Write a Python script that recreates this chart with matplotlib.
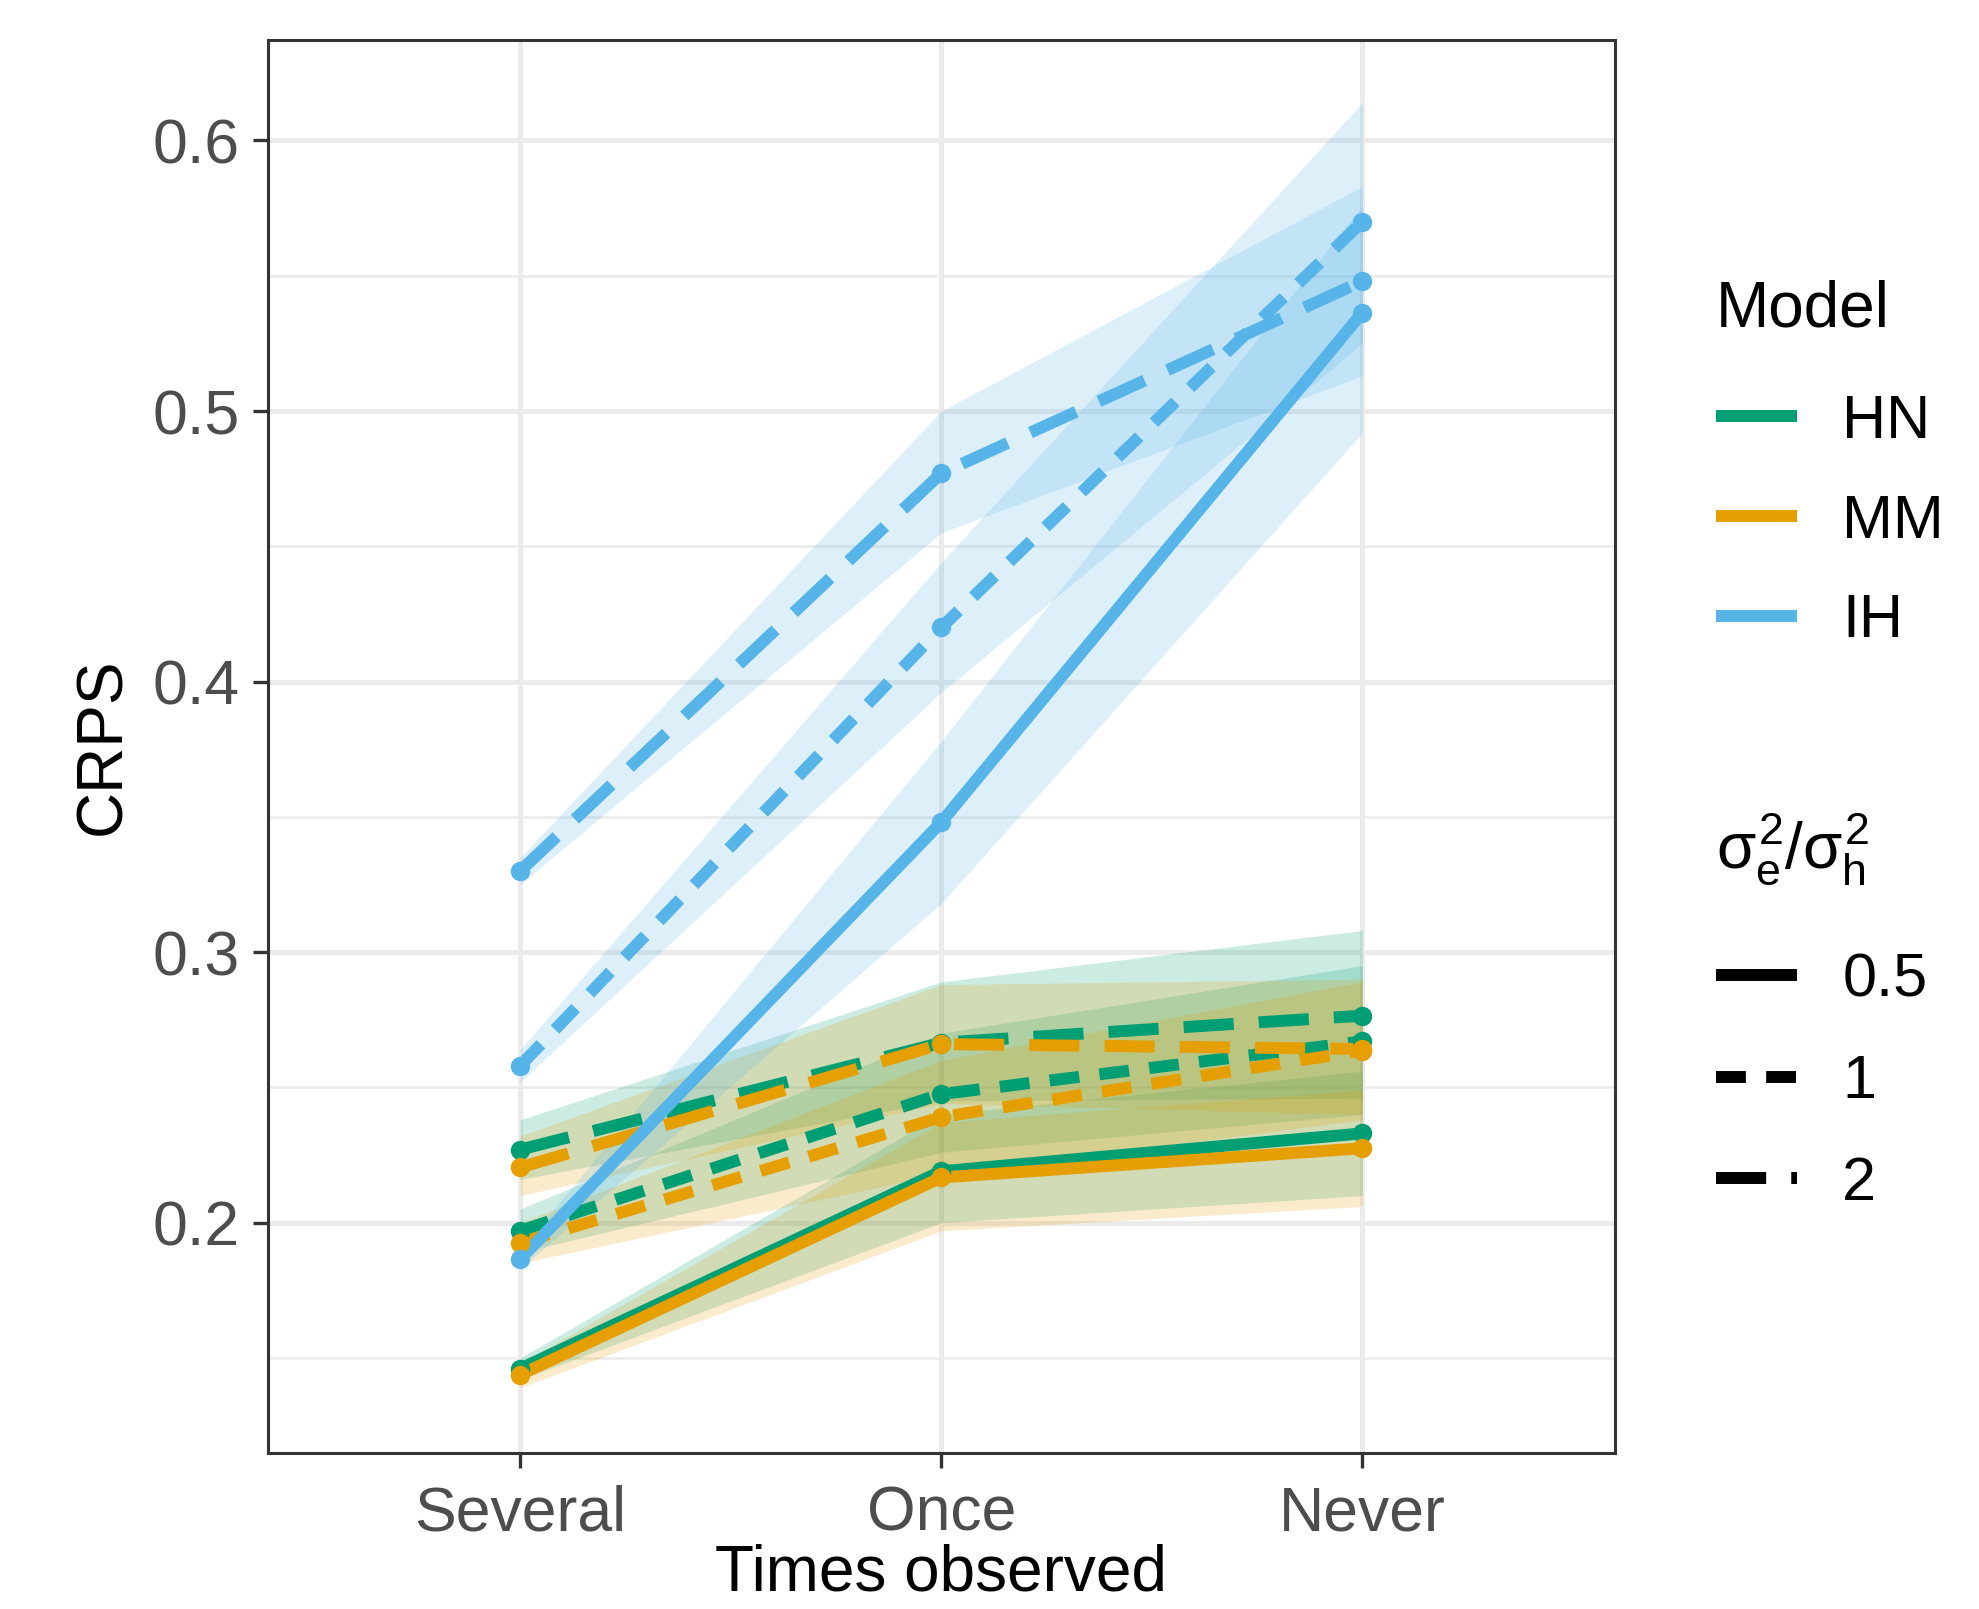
import matplotlib
matplotlib.use("Agg")
import matplotlib.pyplot as plt
from matplotlib.lines import Line2D
from matplotlib.font_manager import FontProperties
from matplotlib.ticker import MultipleLocator, FormatStrFormatter

plt.rcParams['font.family'] = ['Liberation Sans', 'DejaVu Sans']
plt.rcParams['mathtext.fontset'] = 'custom'
plt.rcParams['mathtext.rm'] = 'Liberation Sans'
plt.rcParams['mathtext.it'] = 'Liberation Sans'
plt.rcParams['mathtext.bf'] = 'Liberation Sans:bold'

times = ['Several', 'Once', 'Never']
models = ['HN', 'MM', 'IH']
ratios = ['0.5', '1', '2']

# mean CRPS, one list per model / ratio
hn_05 = [0.146, 0.219, 0.233]
hn_1 = [0.197, 0.2475, 0.267]
hn_2 = [0.227, 0.2665, 0.2765]
mm_05 = [0.1438, 0.2167, 0.2275]
mm_1 = [0.1926, 0.239, 0.2636]
mm_2 = [0.2204, 0.266, 0.2642]
ih_05 = [0.1865, 0.348, 0.5364]
ih_1 = [0.258, 0.420, 0.570]
ih_2 = [0.330, 0.477, 0.548]

# ribbon bounds
hn_05_lo = [0.142, 0.200, 0.210]
hn_05_hi = [0.150, 0.240, 0.256]
hn_1_lo = [0.189, 0.226, 0.240]
hn_1_hi = [0.205, 0.270, 0.295]
hn_2_lo = [0.216, 0.245, 0.246]
hn_2_hi = [0.238, 0.289, 0.308]
mm_05_lo = [0.139, 0.197, 0.206]
mm_05_hi = [0.148, 0.237, 0.249]
mm_1_lo = [0.185, 0.218, 0.238]
mm_1_hi = [0.200, 0.260, 0.289]
mm_2_lo = [0.210, 0.244, 0.240]
mm_2_hi = [0.232, 0.288, 0.290]
ih_05_lo = [0.183, 0.318, 0.492]
ih_05_hi = [0.190, 0.378, 0.576]
ih_1_lo = [0.252, 0.396, 0.525]
ih_1_hi = [0.264, 0.444, 0.614]
ih_2_lo = [0.325, 0.455, 0.513]
ih_2_hi = [0.335, 0.500, 0.583]

colors = {'HN': '#009E73', 'MM': '#E69F00', 'IH': '#56B4E9'}
dashes = {'0.5': None, '1': (2.5, 1.7), '2': (4.2, 2.1)}

series = {
    ('HN', '0.5'): (hn_05, hn_05_lo, hn_05_hi),
    ('HN', '1'): (hn_1, hn_1_lo, hn_1_hi),
    ('HN', '2'): (hn_2, hn_2_lo, hn_2_hi),
    ('MM', '0.5'): (mm_05, mm_05_lo, mm_05_hi),
    ('MM', '1'): (mm_1, mm_1_lo, mm_1_hi),
    ('MM', '2'): (mm_2, mm_2_lo, mm_2_hi),
    ('IH', '0.5'): (ih_05, ih_05_lo, ih_05_hi),
    ('IH', '1'): (ih_1, ih_1_lo, ih_1_hi),
    ('IH', '2'): (ih_2, ih_2_lo, ih_2_hi),
}

fig = plt.figure(figsize=(19.79, 16.09), dpi=100)
ax = fig.add_axes([0.1352, 0.0972, 0.8161 - 0.1352, 0.9749 - 0.0972])

x = list(range(len(times)))
lw = 8.6

# ribbons first, then lines, then points (ggplot layer order)
for m in models:
    for r in ratios:
        y, lo, hi = series[(m, r)]
        ax.fill_between(x, lo, hi, color=colors[m], alpha=0.2, lw=0, zorder=2)
for m in models:
    for r in ratios:
        y, lo, hi = series[(m, r)]
        line, = ax.plot(x, y, color=colors[m], lw=lw, zorder=3,
                        solid_capstyle='butt', dash_capstyle='butt')
        if dashes[r] is not None:
            line.set_dashes(dashes[r])
for m in models:
    for r in ratios:
        y, lo, hi = series[(m, r)]
        ax.plot(x, y, 'o', color=colors[m], ms=14, zorder=4, mec='none')

ax.set_xlim(-0.6, 2.6)
ax.set_ylim(0.115, 0.637)
ax.set_xticks(x)
ax.set_xticklabels(times)
ax.yaxis.set_major_locator(MultipleLocator(0.1))
ax.yaxis.set_minor_locator(MultipleLocator(0.05))
ax.yaxis.set_major_formatter(FormatStrFormatter('%.1f'))

ax.grid(which='major', color='#EBEBEB', lw=3.6, zorder=0)
ax.grid(which='minor', axis='y', color='#EBEBEB', lw=1.8, zorder=0)
ax.set_axisbelow(True)
ax.tick_params(which='minor', length=0)
ax.tick_params(which='major', length=11, width=2.4, color='#333333',
               labelsize=45, labelcolor='#4D4D4D', pad=9)
ax.tick_params(axis='x', pad=12)
for s in ax.spines.values():
    s.set_color('#333333')
    s.set_linewidth(2.2)

ax.set_xlabel('Times observed', fontsize=46, labelpad=0)
ax.set_ylabel('CRPS', fontsize=46, labelpad=14)

# legends
h1 = [Line2D([], [], color=colors[m], lw=lw, solid_capstyle='butt') for m in models]
leg1 = fig.legend(h1, models, title='Model', loc='upper left',
                  bbox_to_anchor=(0.867, 0.826), frameon=False, fontsize=44,
                  title_fontsize=46, handlelength=1.33, handletextpad=0.74,
                  labelspacing=0.70, borderpad=0, borderaxespad=0,
                  alignment='left')
leg1._legend_box.sep = 0.7 * 44 + 8

h2 = []
for r in ratios:
    l = Line2D([], [], color='black', lw=lw, solid_capstyle='butt', dash_capstyle='butt')
    if dashes[r] is not None:
        l.set_dashes(dashes[r])
    h2.append(l)
tfp = FontProperties(family='Liberation Sans', size=46)
leg2 = fig.legend(h2, ratios,
                  title=r'$\sigma_{e}^{2}/\sigma_{h}^{2}$',
                  loc='upper left', bbox_to_anchor=(0.867, 0.496), frameon=False,
                  fontsize=44, title_fontproperties=tfp, handlelength=1.33,
                  handletextpad=0.74, labelspacing=0.73, borderpad=0,
                  borderaxespad=0, alignment='left')
leg2._legend_box.sep = 0.7 * 44 + 16

fig.savefig('out.png', dpi=100)
